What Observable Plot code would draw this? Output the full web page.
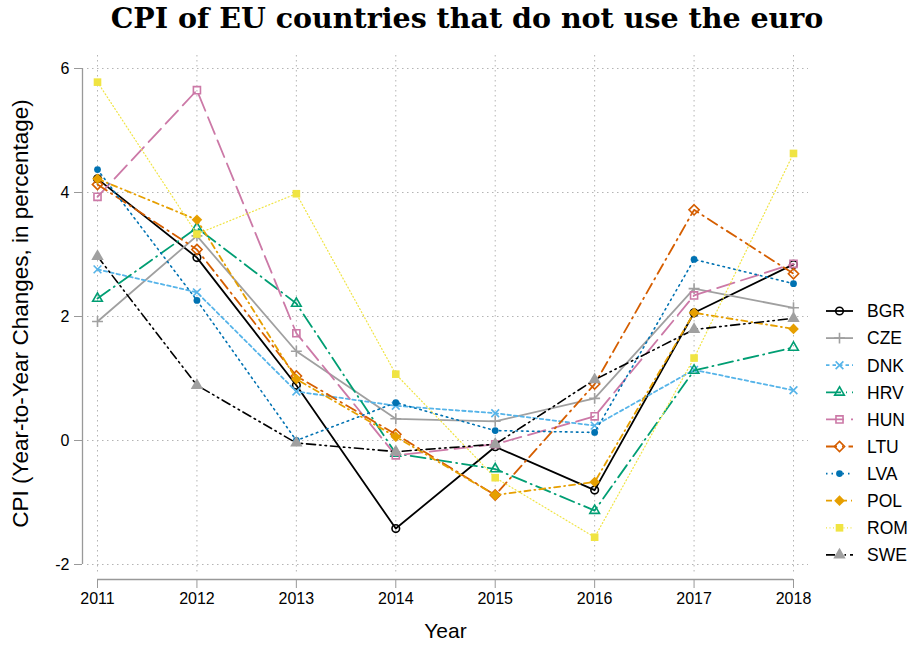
<!DOCTYPE html>
<html><head><meta charset="utf-8">
<script src="https://cdn.jsdelivr.net/npm/d3@7"></script>
<script src="https://cdn.jsdelivr.net/npm/@observablehq/plot@0.6"></script>
<style>
body{margin:0;background:#fff;}
#wrap{position:relative;width:911px;height:645px;overflow:hidden;background:#fff;}
#title{position:absolute;left:0;top:-2px;width:934px;text-align:center;font-family:"DejaVu Serif",serif;font-weight:bold;font-size:28.5px;line-height:40px;color:#000;}
#chart{position:absolute;left:0;top:45px;}
#legend{position:absolute;left:0;top:0;}
</style></head><body>
<div id="wrap">
<div id="title">CPI of EU countries that do not use the euro</div>
<div id="chart"></div>
<svg id="legend" width="911" height="645"></svg>
</div>
<script>
const years = [2011, 2012, 2013, 2014, 2015, 2016, 2017, 2018];
const yTicks = [-2, 0, 2, 4, 6];
const countries = ["BGR", "CZE", "DNK", "HRV", "HUN", "LTU", "LVA", "POL", "ROM", "SWE"];
const BGR = [4.22, 2.95, 0.89, -1.42, -0.10, -0.80, 2.06, 2.84];
const CZE = [1.92, 3.30, 1.44, 0.35, 0.31, 0.68, 2.45, 2.14];
const DNK = [2.76, 2.39, 0.79, 0.56, 0.44, 0.24, 1.14, 0.81];
const HRV = [2.29, 3.43, 2.21, -0.21, -0.46, -1.13, 1.13, 1.50];
const HUN = [3.93, 5.65, 1.73, -0.24, -0.06, 0.39, 2.34, 2.85];
const LTU = [4.13, 3.08, 1.04, 0.10, -0.88, 0.91, 3.72, 2.69];
const LVA = [4.37, 2.26, 0.00, 0.61, 0.16, 0.13, 2.92, 2.53];
const POL = [4.22, 3.56, 0.99, 0.06, -0.88, -0.67, 2.06, 1.80];
const ROM = [5.78, 3.33, 3.98, 1.07, -0.60, -1.56, 1.33, 4.63];
const SWE = [2.97, 0.89, -0.04, -0.18, -0.06, 0.98, 1.79, 1.97];
const series = {BGR, CZE, DNK, HRV, HUN, LTU, LVA, POL, ROM, SWE};

const styles = {
  BGR: {stroke: "#000000", dash: null, w: 1.8, symbol: "circle", d3sym: d3.symbolCircle, fill: "none", mstroke: "#000000", r: 3.8},
  CZE: {stroke: "#a0a0a0", dash: null, w: 1.8, symbol: "plus", d3sym: d3.symbolPlus, fill: "none", mstroke: "#a0a0a0", r: 3.6},
  DNK: {stroke: "#56b4e9", dash: "3.5,3", w: 1.8, symbol: "times", d3sym: d3.symbolTimes, fill: "none", mstroke: "#56b4e9", r: 3.6},
  HRV: {stroke: "#009e73", dash: "15,5,1,5", w: 1.8, symbol: "triangle2", d3sym: d3.symbolTriangle2, fill: "none", mstroke: "#009e73", r: 4.6},
  HUN: {stroke: "#cc79a7", dash: "18,7", w: 1.8, symbol: "square2", d3sym: d3.symbolSquare2, fill: "none", mstroke: "#cc79a7", r: 4.5},
  LTU: {stroke: "#d55e00", dash: "11,5,1.5,5", w: 1.8, symbol: "diamond2", d3sym: d3.symbolDiamond2, fill: "none", mstroke: "#d55e00", r: 4.6},
  LVA: {stroke: "#0072b2", dash: "1.5,4", w: 1.6, symbol: "circle", d3sym: d3.symbolCircle, fill: "#0072b2", mstroke: "none", r: 3.4},
  POL: {stroke: "#e69f00", dash: "6,4,1,4", w: 1.8, symbol: "diamond2", d3sym: d3.symbolDiamond2, fill: "#e69f00", mstroke: "none", r: 4.8},
  ROM: {stroke: "#f0e442", dash: "1,2.5", w: 1.2, symbol: "square", d3sym: d3.symbolSquare, fill: "#f0e442", mstroke: "none", r: 4.3},
  SWE: {stroke: "#000000", dash: "9,4,1.5,4,1.5,4", w: 1.6, symbol: "triangle", d3sym: d3.symbolTriangle, fill: "#a0a0a0", mstroke: "none", r: 4.6}
};

const rows = countries.flatMap(c => years.map((yr, i) => ({country: c, year: yr, value: series[c][i]})));

const seriesMarks = countries.flatMap(c => {
  const s = styles[c];
  const d = rows.filter(r => r.country === c);
  return [
    Plot.line(d, {x: "year", y: "value", stroke: s.stroke, strokeWidth: s.w, strokeDasharray: s.dash, strokeLinejoin: "round"}),
    Plot.dot(d, {x: "year", y: "value", symbol: s.symbol, r: s.r, fill: s.fill, stroke: s.mstroke, strokeWidth: 1.6})
  ];
});

const chart = Plot.plot({
  width: 911,
  height: 600,
  marginLeft: 82,
  marginRight: 103,
  marginTop: 10,
  marginBottom: 66,
  style: {fontFamily: "'Liberation Sans', Arial, sans-serif", fontSize: "16px", background: "#fff", color: "#000", overflow: "visible"},
  x: {domain: [2011, 2018], range: [97, 793]},
  y: {domain: [-2, 6], range: [519, 23]},
  marks: [
    Plot.gridX(years, {stroke: "#b4b4b4", strokeOpacity: 1, strokeDasharray: "1.5,3.5", insetBottom: 6}),
    Plot.gridY(yTicks, {stroke: "#b4b4b4", strokeOpacity: 1, strokeDasharray: "1.5,3.5", insetLeft: 5}),
    Plot.ruleX([2011], {y1: -2, y2: 6, dx: -15, stroke: "#999", strokeWidth: 1.3}),
    Plot.ruleY([-2], {x1: 2011, x2: 2018, dy: 15, stroke: "#999", strokeWidth: 1.3}),
    Plot.axisX(years, {anchor: "bottom", tickSize: 9, tickPadding: 4, tickFormat: d => String(d), stroke: "#999", fill: "#000", fontSize: 16, label: null}),
    Plot.axisY(yTicks, {anchor: "left", tickSize: 8, tickPadding: 5, tickFormat: d => String(d), stroke: "#999", fill: "#000", fontSize: 16, label: null}),
    Plot.text(["Year"], {frameAnchor: "bottom", dy: 58, fontSize: 21, fill: "#000"}),
    Plot.text(["CPI (Year-to-Year Changes, in percentage)"], {frameAnchor: "left", textAnchor: "middle", lineWidth: Infinity, rotate: -90, dx: -62, dy: -4, fontSize: 22.5, fill: "#000"}),
    ...seriesMarks
  ]
});
document.getElementById("chart").appendChild(chart);

// legend
const lg = d3.select("#legend");
countries.forEach((c, i) => {
  const s = styles[c];
  const y = 311 + 27.1 * i;
  lg.append("line").attr("x1", 826).attr("x2", 853).attr("y1", y).attr("y2", y)
    .attr("stroke", s.stroke).attr("stroke-width", s.w).attr("stroke-dasharray", s.dash);
  lg.append("path").attr("d", d3.symbol(s.d3sym, Math.PI * s.r * s.r)())
    .attr("transform", `translate(839.5,${y})`)
    .attr("fill", s.fill).attr("stroke", s.mstroke).attr("stroke-width", 1.6);
  lg.append("text").attr("x", 867).attr("y", y).attr("dy", "0.36em")
    .attr("font-family", "'Liberation Sans', Arial, sans-serif").attr("font-size", 17.5).text(c);
});
</script>
</body></html>
